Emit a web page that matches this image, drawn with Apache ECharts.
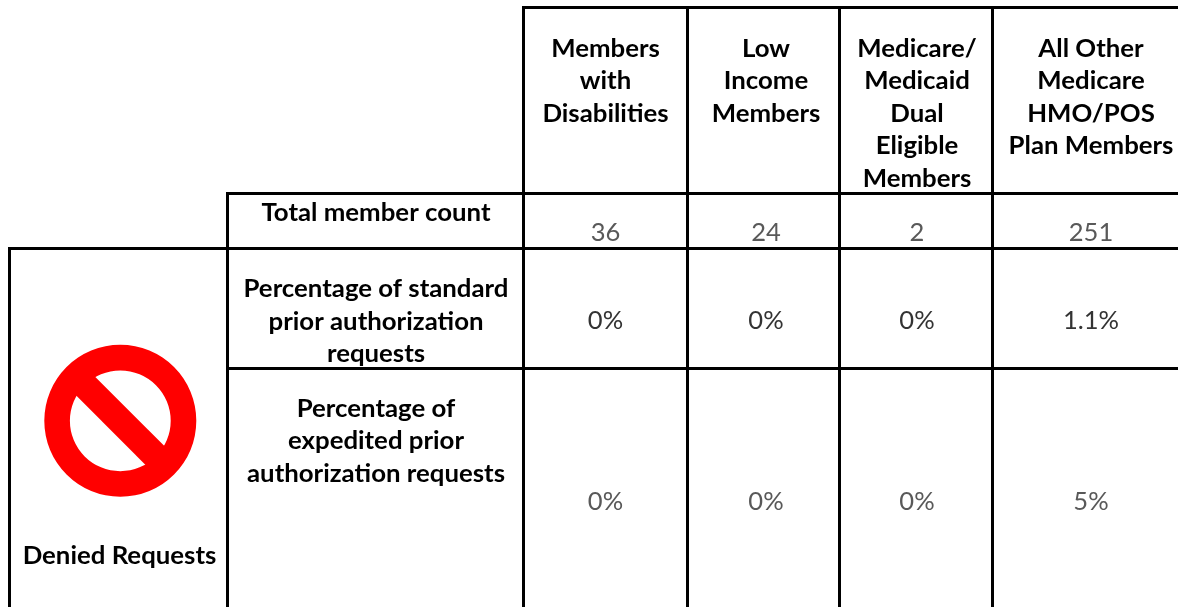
<!DOCTYPE html>
<html><head><meta charset="utf-8">
<style>html,body{margin:0;padding:0;background:#fff}#c{width:1178px;height:607px}</style>
<script src="https://cdn.jsdelivr.net/npm/echarts@6/dist/echarts.min.js"></script>
</head><body><div id="c"></div>
<script>
var columnHeaders = [
  ['Members','with','Disabilities'],
  ['Low','Income','Members'],
  ['Medicare/','Medicaid','Dual','Eligible','Members'],
  ['All Other','Medicare','HMO/POS','Plan Members']
];
var rowHeaders = [
  ['Total member count'],
  ['Percentage of standard','prior authorization','requests'],
  ['Percentage of','expedited prior','authorization requests']
];
var sideLabel = 'Denied Requests';
var totalMemberCount = ['36','24','2','251'];
var standardDenied = ['0%','0%','0%','1.1%'];
var expeditedDenied = ['0%','0%','0%','5%'];

// layout of the table, in page pixels
var colCenters = [605.5, 766, 917, 1091];
var headerTop = 49, lineStep = 32.4;
var rowLabelX = 376;
var rowLabelTops = [213, 289.5, 409];
var valueRowYs = [233, 321.5, 502.5];
var valueColors = ['#595959', '#333333', '#595959'];
var BLACK = '#000000';

var ruleSegs = [
  [523.5,7.5,1180,7.5],[227.5,193.5,1180,193.5],[9.5,248.5,1180,248.5],[227.5,368.5,1180,368.5],
  [9.5,248.5,9.5,610],[227.5,193.5,227.5,610],[523.5,7.5,523.5,610],[687.5,7.5,687.5,610],[839.5,7.5,839.5,610],[992.5,7.5,992.5,610]
];

var textData = [];
columnHeaders.forEach(function(lines,c){ lines.forEach(function(t,i){
  textData.push({value:[colCenters[c], headerTop+i*lineStep], label:t, bold:true, color:BLACK}); }); });
rowHeaders.forEach(function(lines,r){ lines.forEach(function(t,i){
  textData.push({value:[rowLabelX, rowLabelTops[r]+i*lineStep], label:t, bold:true, color:BLACK}); }); });
[totalMemberCount,standardDenied,expeditedDenied].forEach(function(arr,r){ arr.forEach(function(t,c){
  textData.push({value:[colCenters[c], valueRowYs[r]], label:t, bold:false, color:valueColors[r]}); }); });
textData.push({value:[119.5,556], label:sideLabel, bold:true, color:BLACK});

var chart = echarts.init(document.getElementById('c'), null, {renderer:'canvas'});
chart.setOption({
  animation:false,
  backgroundColor:'#ffffff',
  grid:{left:0,right:0,top:0,bottom:0},
  xAxis:{type:'value',min:0,max:1178,show:false},
  yAxis:{type:'value',min:0,max:607,inverse:true,show:false},
  series:[
    {type:'custom',name:'rules',silent:true,clip:false,
     data:ruleSegs,
     renderItem:function(p,api){
       var a=api.coord([api.value(0),api.value(1)]), b=api.coord([api.value(2),api.value(3)]);
       return {type:'line',shape:{x1:a[0],y1:a[1],x2:b[0],y2:b[1]},style:{stroke:BLACK,lineWidth:3,lineCap:'square'}};
     }},
    {type:'custom',name:'icon',silent:true,
     data:[[120.3,420.8]],
     renderItem:function(p,api){
       var c=api.coord([api.value(0),api.value(1)]);
       return {type:'group',children:[
         {type:'ring',shape:{cx:c[0],cy:c[1],r:76,r0:50.4},style:{fill:'#ff0000'}},
         {type:'rect',x:c[0],y:c[1],rotation:-Math.PI/4,shape:{x:-60,y:-13.3,width:120,height:26.6},style:{fill:'#ff0000'}}
       ]};
     }},
    {type:'custom',name:'cells',silent:true,
     data:textData,
     renderItem:function(p,api){
       var d=textData[p.dataIndex], c=api.coord(d.value);
       return {type:'text',x:c[0],y:c[1],scaleX:d.bold?1.04:1.03,style:{
         text:d.label,align:'center',verticalAlign:'middle',
         font:(d.bold?'bold 24.8px':'24.8px')+' Lato, "Noto Sans", sans-serif',fill:d.color}};
     }}
  ]
});
</script></body></html>
